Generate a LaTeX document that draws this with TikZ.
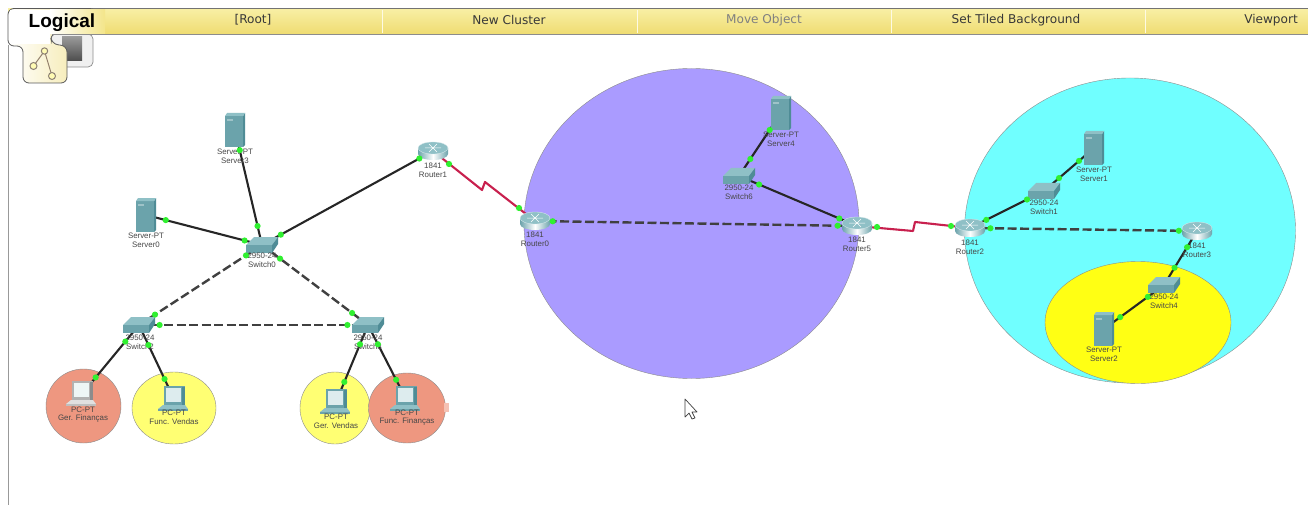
\documentclass[tikz,border=0pt]{standalone}
\usepackage{fontspec}
\setmainfont{Liberation Sans}
\newfontfamily\barfont{DejaVu Sans}
\definecolor{salmonz}{HTML}{EE9780}
\definecolor{paley}{HTML}{FFFF73}
\definecolor{purplez}{HTML}{AA9BFF}
\definecolor{cyanz}{HTML}{70FFFF}
\definecolor{yellowz}{HTML}{FFFF14}
\definecolor{serialc}{HTML}{C8204E}
\definecolor{portc}{HTML}{30F030}
\definecolor{tealA}{HTML}{6BA3AB}
\definecolor{tealB}{HTML}{8FC0C6}
\definecolor{tealC}{HTML}{4F8C96}
\definecolor{barA}{HTML}{F8EFA4}
\definecolor{barB}{HTML}{EFDC72}
\definecolor{tileY}{HTML}{F3E59C}
\tikzset{
  x=1pt,y=-1pt,
  cable/.style={draw=black!85,line width=2.1pt},
  dashcable/.style={draw=black!75,line width=2.4pt,dash pattern=on 9pt off 3.5pt},
  serial/.style={draw=serialc,line width=2.1pt,line join=round},
  portdot/.style={circle,fill=portc,draw=none,inner sep=0pt,minimum size=6.2pt},
  lab/.style={font=\fontsize{7.9}{8.8}\selectfont,text=black!72,align=center,inner sep=0pt},
  bartext/.style={font=\barfont\fontsize{12.1}{14}\selectfont,text=black!78,inner sep=0pt},
  zone/.style={draw=black!45,line width=.4pt},
  serverpic/.pic={
    \fill[tealA] (-10,-14) rectangle (8,17);
    \fill[tealC] (8,-14) -- (10,-17) -- (10,15) -- (8,17) -- cycle;
    \fill[tealB] (-10,-14) -- (-8,-17) -- (10,-17) -- (8,-14) -- cycle;
    \fill[white,opacity=.35] (-8,-11) rectangle (-2,-9);
  },
  switchpic/.pic={
    \fill[tealB] (-16,0) -- (-8,-8) -- (16,-8) -- (10,0) -- cycle;
    \fill[tealA] (-16,0) rectangle (10,8);
    \fill[tealC] (10,0) -- (16,-8) -- (16,-1) -- (10,8) -- cycle;
  },
  routerpic/.pic={
    \shade[left color=tealA,right color=tealA,middle color=white] (-15,-3) -- (15,-3) -- (15,3) arc (0:180:15 and 6) -- cycle;
    \fill[tealB,draw=white!70!tealB,line width=.3pt] (0,-3) ellipse (15 and 6);
    \draw[white,line width=.5pt] (-8,-3) -- (8,-3) (-4,-7) -- (4,1) (4,-7) -- (-4,1);
  },
  pcpic/.pic={
    \fill[tealA] (-10,-13) rectangle (11,6);
    \fill[white!70!tealB] (-8,-11) rectangle (7,3);
    \fill[tealC] (8,-12) rectangle (11,6);
    \fill[tealB] (-16,10) -- (-11,6) -- (11,6) -- (14,10) -- cycle;
    \fill[tealA] (-16,10) rectangle (14,12);
  },
  palepcpic/.pic={
    \fill[black!30!white] (-10,-13) rectangle (11,6);
    \fill[white!85!tealB] (-8,-11) rectangle (7,3);
    \fill[black!45!white] (8,-12) rectangle (11,6);
    \fill[black!12!white] (-16,10) -- (-11,6) -- (11,6) -- (14,10) -- cycle;
    \fill[black!25!white] (-16,10) rectangle (14,12);
  },
}
\newcommand{\lnkline}[5]{\draw[#1] (#2) -- (#3);}
\newcommand{\lnkdots}[5]{\path (#2) -- (#3) node[portdot,pos=#4] {} node[portdot,pos=#5] {};}
\newcommand{\alllinks}{%
  \lnk{cable}{srv3}{sw0}{.175}{.835}
  \lnk{cable}{srv0}{sw0}{.17}{.85}
  \lnk{cable}{sw0}{rt1}{.11}{.92}
  \lnk{dashcable}{rt0}{rt5}{.055}{.94}
  \lnk{dashcable}{sw0}{sw2}{.13}{.87}
  \lnk{dashcable}{sw0}{sw3}{.17}{.85}
  \lnk{dashcable}{sw2}{sw3}{.09}{.91}
  \lnk{cable}{sw2}{pca}{.24}{.76}
  \lnk{cable}{sw2}{pcb}{.27}{.73}
  \lnk{cable}{sw3}{pcc}{.25}{.74}
  \lnk{cable}{sw3}{pcd}{.26}{.74}
  \lnk{cable}{srv4}{sw6}{.27}{.73}
  \lnk{cable}{sw6}{rt5}{.17}{.85}
  \lnk{cable}{rt2}{sw1}{.22}{.77}
  \lnk{dashcable}{rt2}{rt3}{.09}{.92}
  \lnk{cable}{sw1}{srv1}{.3}{.7}
  \lnk{cable}{rt3}{sw4}{.3}{.68}
  \lnk{cable}{sw4}{srv2}{.27}{.73}
}
\begin{document}
\begin{tikzpicture}
\useasboundingbox (0,0) rectangle (1308,505);
\fill[white] (0,0) rectangle (1308,505);
% zones
\filldraw[zone,fill=salmonz] (83.5,406) ellipse (37.5 and 37);
\filldraw[zone,fill=paley] (174,408) ellipse (42 and 36);
\filldraw[zone,fill=paley] (335,408) ellipse (35 and 36);
\filldraw[zone,fill=salmonz] (407,408) ellipse (38.5 and 35);
\fill[salmonz!60!white] (444,403) rectangle (449,412);
\filldraw[zone,fill=purplez] (691.5,223.5) ellipse (167.5 and 155);
\filldraw[zone,fill=cyanz] (1130,230.5) ellipse (165.5 and 152.5);
\filldraw[zone,fill=yellowz] (1138,322.5) ellipse (93 and 61);
% device positions
\coordinate (srv3) at (235,130);
\coordinate (srv0) at (146,215);
\coordinate (sw0) at (262,245);
\coordinate (rt1) at (433,151);
\coordinate (rt0) at (535,221);
\coordinate (sw2) at (139,325);
\coordinate (sw3) at (368,325);
\coordinate (pca) at (82,394);
\coordinate (pcb) at (174,399);
\coordinate (pcc) at (336,402);
\coordinate (pcd) at (406,399);
\coordinate (srv4) at (781,113);
\coordinate (sw6) at (739,176);
\coordinate (rt5) at (857,226);
\coordinate (rt2) at (970,228);
\coordinate (srv1) at (1094,148);
\coordinate (sw1) at (1044,191);
\coordinate (rt3) at (1197,231);
\coordinate (sw4) at (1164,285);
\coordinate (srv2) at (1104,329);
\coordinate (bendA) at (482,190);
\coordinate (bendB) at (485,182);
\coordinate (bendC) at (913,231);
\coordinate (bendD) at (915,222);
% links
\let\lnk\lnkline
\alllinks
\draw[serial] (rt1) -- (bendA) -- (bendB) -- (rt0);
\draw[serial] (rt5) -- (bendC) -- (bendD) -- (rt2);
% devices
\foreach \n in {srv0,srv1,srv2,srv3,srv4} \pic at (\n) {serverpic};
\foreach \n in {sw0,sw1,sw2,sw3,sw4,sw6} \pic at (\n) {switchpic};
\foreach \n in {rt0,rt1,rt2,rt3,rt5} \pic at (\n) {routerpic};
\pic at (pca) {palepcpic};
\foreach \n in {pcb,pcc,pcd} \pic at (\n) {pcpic};
% labels
\node[lab] (lsrv3) at (235,156) {Server-PT\\Server3};
\node[lab] (lsrv0) at (146,240.5) {Server-PT\\Server0};
\node[lab] (lsw0) at (262,260.5) {2950-24\\Switch0};
\node[lab] (lrt1) at (433,170.5) {1841\\Router1};
\node[lab] (lrt0) at (535,239.5) {1841\\Router0};
\node[lab] (lsw2) at (140,342.5) {2950-24\\Switch2};
\node[lab] (lsw3) at (368,342.5) {2950-24\\Switch3};
\node[lab] (lpca) at (83,414.5) {PC-PT\\Ger. Finanças};
\node[lab] (lpcb) at (174,417.5) {PC-PT\\Func. Vendas};
\node[lab] (lpcc) at (336,421.5) {PC-PT\\Ger. Vendas};
\node[lab] (lpcd) at (407,417.5) {PC-PT\\Func. Finanças};
\node[lab] (lsrv4) at (781,139.5) {Server-PT\\Server4};
\node[lab] (lsw6) at (739,192) {2950-24\\Switch6};
\node[lab] (lrt5) at (857,244.5) {1841\\Router5};
\node[lab] (lrt2) at (970,247) {1841\\Router2};
\node[lab] (lsrv1) at (1094,174) {Server-PT\\Server1};
\node[lab] (lsw1) at (1044,207.5) {2950-24\\Switch1};
\node[lab] (lrt3) at (1197,250.5) {1841\\Router3};
\node[lab] (lsw4) at (1164,301.5) {2950-24\\Switch4};
\node[lab] (lsrv2) at (1104,354.5) {Server-PT\\Server2};
% port dots
\let\lnk\lnkdots
\alllinks
\foreach \p in {(449,164),(519,208),(877,227),(951,226)} \node[portdot] at \p {};
% cursor
\filldraw[fill=white,draw=black!75,line width=.7pt,line join=round] (685,399) -- (685,417) -- (689,413) -- (692,419) -- (695,418) -- (692,412) -- (697,412) -- cycle;
% top bar
\draw[black!40,line width=1pt] (8,45) -- (8,505);
\shade[top color=barA,bottom color=barB] (8,9) rectangle (1308,34);
\fill[black!55] (15,8) rectangle (1308,9.5);
\fill[black!45] (60,34) rectangle (1308,35.5);
\foreach \x in {382,637,891,1145} \draw[white!70!barA,line width=.8pt] (\x,10) -- (\x,33);
\node[bartext] (root) at (253,20) {[Root]};
\node[bartext] (cluster) at (509,20) {New Cluster};
\node[bartext,text=black!50] (move) at (764,20) {Move Object};
\node[bartext] (tiled) at (1016,20) {Set Tiled Background};
\node[bartext] (view) at (1271,20) {Viewport};
% logical tab
\filldraw[fill=black!6,draw=black!45,line width=.7pt,rounded corners=5pt] (50,34) -- (93,34) -- (93,67) -- (60,67) -- cycle;
\shade[top color=black!40,bottom color=black!70] (62,37) rectangle (82,61);
\shadedraw[left color=white,right color=tileY,draw=black!65,line width=.8pt,rounded corners=6pt]
  (20,8.5) -- (8,8.5) -- (8,46) -- (23,46) -- (23,83) -- (67,83) -- (67,46) -- (52,44) -- (50,34) -- (96,34) -- (96,8.5) -- cycle;
\fill[white] (10,10) rectangle (50,44);
\shade[left color=white,right color=barA!50!barB] (50,9.5) rectangle (105,33.5);
\fill[black!45] (52,34) rectangle (105,35.5);
\node[inner sep=0pt,font=\bfseries\fontsize{19}{22}\selectfont] (logical) at (62,22.5) {Logical};
\draw[gray!70!brown,line width=1pt] (44.5,51) -- (33.5,66) (44.5,51) -- (52,76);
\filldraw[draw=gray!80!brown,fill=white!70!yellow,line width=1pt] (44.5,51) circle (3.2) (33.5,66) circle (3.5) (52,76) circle (3.5);
\end{tikzpicture}
\end{document}
